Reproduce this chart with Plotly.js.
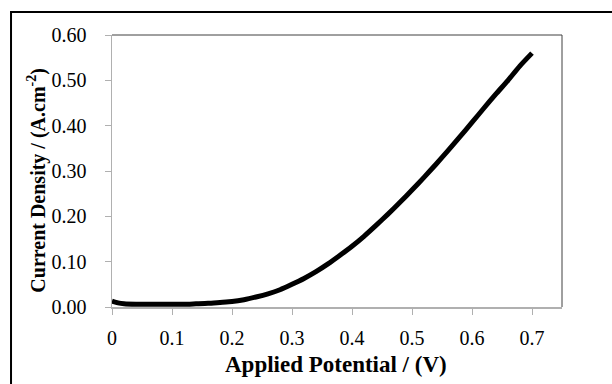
<!DOCTYPE html>
<html>
<head>
<meta charset="utf-8">
<script src="https://cdn.plot.ly/plotly-3.0.1.min.js"></script>
<style>html,body{margin:0;padding:0;background:#fff;}#chart{width:612px;height:384px;}</style>
</head>
<body>
<div id="chart"></div>
<script>
const potential = [0.00, 0.01, 0.02, 0.04, 0.06, 0.08, 0.10, 0.12, 0.14, 0.16, 0.18, 0.20, 0.22, 0.24, 0.26, 0.28, 0.30, 0.32, 0.34, 0.36, 0.38, 0.40, 0.42, 0.44, 0.46, 0.48, 0.50, 0.52, 0.54, 0.56, 0.58, 0.60, 0.62, 0.64, 0.66, 0.68, 0.70];
const currentDensity = [0.013, 0.009, 0.007, 0.006, 0.006, 0.006, 0.006, 0.006, 0.007, 0.008, 0.010, 0.012, 0.016, 0.022, 0.029, 0.038, 0.050, 0.063, 0.078, 0.095, 0.114, 0.134, 0.156, 0.180, 0.205, 0.231, 0.258, 0.286, 0.315, 0.345, 0.376, 0.407, 0.439, 0.470, 0.500, 0.532, 0.560];
const xTicks = [0, 0.1, 0.2, 0.3, 0.4, 0.5, 0.6, 0.7];
const xTickLabels = ['0', '0.1', '0.2', '0.3', '0.4', '0.5', '0.6', '0.7'];
const yTicks = [0, 0.1, 0.2, 0.3, 0.4, 0.5, 0.6];
const yTickLabels = ['0.00', '0.10', '0.20', '0.30', '0.40', '0.50', '0.60'];
const xTitle = 'Applied Potential / (V)';
const yTitle = 'Current Density / (A.cm<sup>-2</sup>)';

const serif = 'Liberation Serif, Times New Roman, serif';

const trace = {
  x: potential, y: currentDensity, type: 'scatter', mode: 'lines',
  line: {color: '#000000', width: 5, shape: 'spline', smoothing: 0.6},
  hoverinfo: 'skip', showlegend: false
};

const layout = {
  width: 612, height: 384,
  margin: {l: 112, r: 50, t: 35, b: 77},
  paper_bgcolor: '#ffffff', plot_bgcolor: '#ffffff',
  font: {family: serif, size: 20, color: '#000000'},
  xaxis: {
    range: [0, 0.75], tickvals: xTicks, ticktext: xTickLabels,
    ticks: 'outside', ticklen: 6, tickcolor: '#b0b0b0', tickwidth: 1,
    showline: true, linecolor: '#b0b0b0', linewidth: 1.5,
    showgrid: false, zeroline: false, ticklabelstandoff: 6,
    tickfont: {family: serif, size: 20, color: '#000000'}
  },
  yaxis: {
    range: [0, 0.6], tickvals: yTicks, ticktext: yTickLabels,
    ticks: 'outside', ticklen: 6, tickcolor: '#b0b0b0', tickwidth: 1,
    showline: true, linecolor: '#b0b0b0', linewidth: 1.5,
    showgrid: false, zeroline: false, ticklabelstandoff: 14,
    tickfont: {family: serif, size: 20, color: '#000000'}
  },
  shapes: [
    {type: 'line', xref: 'paper', yref: 'paper', x0: 0, x1: 1, y0: 1, y1: 1, line: {color: '#404040', width: 1}},
    {type: 'line', xref: 'paper', yref: 'paper', x0: 1, x1: 1, y0: 0, y1: 1, line: {color: '#404040', width: 1}},
    {type: 'rect', xref: 'paper', yref: 'paper', x0: -0.2244, x1: 1.4, y0: -0.5, y1: 1.0846, line: {color: '#000000', width: 2}, layer: 'below'}
  ],
  annotations: [
    {text: xTitle, xref: 'paper', yref: 'paper', x: 0.4967, y: -0.2096, xanchor: 'center', yanchor: 'middle', showarrow: false,
     font: {family: serif, size: 23, color: '#000000', weight: 'bold'}},
    {text: yTitle, xref: 'paper', yref: 'paper', x: -0.1667, y: 0.468, xanchor: 'center', yanchor: 'middle', showarrow: false, textangle: -90,
     font: {family: serif, size: 20, color: '#000000', weight: 'bold'}}
  ]
};

Plotly.newPlot('chart', [trace], layout, {staticPlot: true, displayModeBar: false});
</script>
</body>
</html>
